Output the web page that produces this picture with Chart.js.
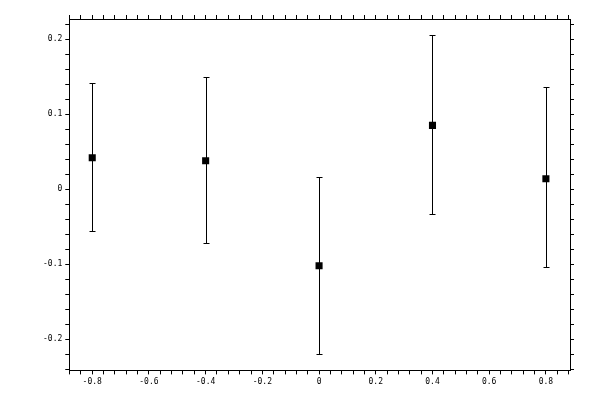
<!DOCTYPE html>
<html>
<head>
<meta charset="utf-8">
<script src="https://cdn.jsdelivr.net/npm/chart.js@4/dist/chart.umd.min.js"></script>
<style>
  html, body { margin: 0; padding: 0; background: #fff; }
  #wrap { width: 600px; height: 400px; }
</style>
</head>
<body>
<div id="wrap"><canvas id="errChart"></canvas></div>
<script>
// Measured values
const xValues = [-0.8, -0.4, 0, 0.4, 0.8];
const yValues = [0.042, 0.038, -0.102, 0.085, 0.014];
const yHigh = [0.141, 0.149, 0.016, 0.205, 0.136];
const yLow = [-0.055, -0.071, -0.219, -0.033, -0.104];

// Axis ranges and tick steps
const xRange = [-0.881, 0.885];
const yRange = [-0.2413, 0.2267];
const xMajor = 0.2, xMinor = 0.04;
const yMajor = 0.1, yMinor = 0.02;

const points = xValues.map((x, i) => ({ x: x, y: yValues[i] }));

function isMajor(v, step) {
    const r = v / step;
    return Math.abs(r - Math.round(r)) < 1e-6;
}

function fmt(v) {
    const s = (Math.round(v * 10) / 10).toString();
    return s === '-0' ? '0' : s;
}

// Draws the vertical error bars with caps, before the markers
const errorBars = {
    id: 'errorBars',
    beforeDatasetsDraw(chart) {
        const ctx = chart.ctx;
        const xs = chart.scales.x, ys = chart.scales.y;
        ctx.save();
        ctx.strokeStyle = '#000';
        ctx.lineWidth = 1;
        xValues.forEach((x, i) => {
            const px = Math.round(xs.getPixelForValue(x)) + 0.5;
            const top = Math.round(ys.getPixelForValue(yHigh[i])) + 0.5;
            const bot = Math.round(ys.getPixelForValue(yLow[i])) + 0.5;
            ctx.beginPath();
            ctx.moveTo(px, top); ctx.lineTo(px, bot);
            ctx.moveTo(px - 3, top); ctx.lineTo(px + 3, top);
            ctx.moveTo(px - 3, bot); ctx.lineTo(px + 3, bot);
            ctx.stroke();
        });
        ctx.restore();
    }
};

const tickFont = { family: 'DejaVu Sans Mono', size: 8 };

function axis(pos, range, step, major, showLabels) {
    return {
        type: 'linear',
        position: pos,
        min: range[0],
        max: range[1],
        border: { display: true, color: '#000', width: 1 },
        grid: {
            drawOnChartArea: false,
            drawTicks: true,
            tickLength: 4,
            tickColor: '#000',
            tickWidth: 1
        },
        ticks: {
            stepSize: step,
            includeBounds: false,
            autoSkip: false,
            maxRotation: 0,
            display: showLabels,
            color: '#000',
            font: tickFont,
            padding: 3,
            callback: function(v) {
                return isMajor(v, major) ? fmt(v) : '';
            }
        }
    };
}

document.addEventListener('DOMContentLoaded', function() {
    const ctx = document.getElementById('errChart').getContext('2d');
    new Chart(ctx, {
        type: 'scatter',
        data: {
            datasets: [{
                data: points,
                pointStyle: 'rect',
                pointRadius: 5,
                pointHoverRadius: 5,
                backgroundColor: '#000',
                borderColor: '#000',
                borderWidth: 0
            }]
        },
        options: {
            responsive: true,
            maintainAspectRatio: false,
            animation: false,
            layout: { padding: { left: 40, right: 26, top: 15, bottom: 10 } },
            plugins: {
                legend: { display: false },
                tooltip: { enabled: false }
            },
            scales: {
                x: axis('bottom', xRange, xMinor, xMajor, true),
                x2: axis('top', xRange, xMinor, xMajor, false),
                y: axis('left', yRange, yMinor, yMajor, true),
                y2: axis('right', yRange, yMinor, yMajor, false)
            }
        },
        plugins: [errorBars]
    });
});
</script>
</body>
</html>
